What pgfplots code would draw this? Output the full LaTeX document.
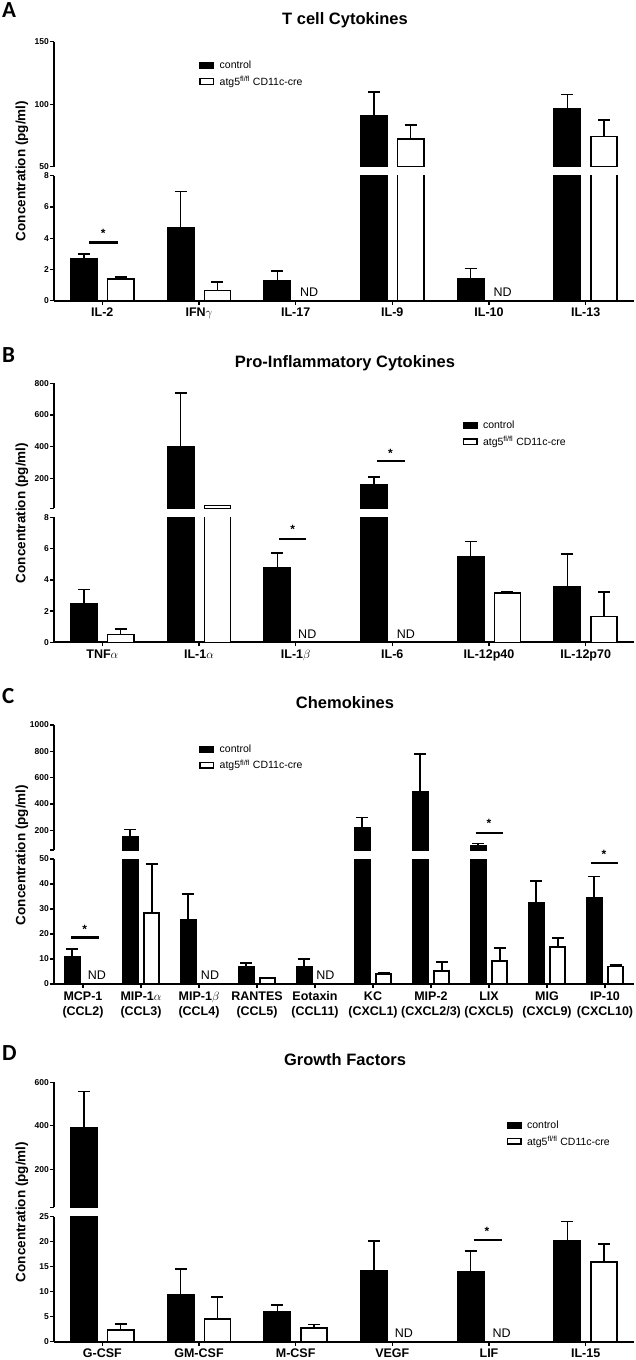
\documentclass[border=0pt]{standalone}
\usepackage{fontspec}
\setmainfont{Liberation Sans}
\newfontfamily\panelfont{Carlito}
\usepackage{pgfplots}
\usepackage{pgfplotstable}
\pgfplotsset{compat=1.18}

% x = category, c/ce = control mean/SEM, k/ke = atg5 fl/fl CD11c-cre (nan = ND)
\pgfplotstableread{
x c ce k ke
0 2.65 0.33 1.40 0.13
1 4.67 2.33 0.66 0.54
2 1.28 0.62 nan nan
3 90.9 19.0 72.3 10.9
4 1.39 0.68 nan nan
5 96.3 11.4 74.1 13.1
}\tA
\pgfplotstableread{
x c ce k ke
0 2.44 0.94 0.50 0.36
1 400 337 27 2
2 4.77 0.96 nan nan
3 158 50 nan nan
4 5.50 0.96 3.14 0.09
5 3.55 2.10 1.65 1.56
}\tB
\pgfplotstableread{
x c ce k ke
0 10.8 3.1 nan nan
1 154 51 28.3 19.7
2 25.7 10.4 nan nan
3 7.0 1.3 2.3 0.2
4 6.7 3.2 nan nan
5 218 79 4.0 0.4
6 489 289 5.3 3.4
7 79 21 9.1 5.3
8 32.6 8.7 14.8 3.5
9 34.6 8.4 7.0 0.6
}\tC
\pgfplotstableread{
x c ce k ke
0 391 166 2.33 1.27
1 9.33 5.17 4.6 4.4
2 5.93 1.40 2.8 0.67
3 14.27 5.93 nan nan
4 14.0 4.2 nan nan
5 20.2 3.87 15.93 3.67
}\tD

\pgfplotsset{
  seg/.style={
    scale only axis, width=580pt, height=125pt,
    xmin=-0.5, xmax=5.5,
    ybar=10.6pt, bar width=0.27,
    every axis plot post/.append style={legend image code/.code={%
      \draw[line width=1.4pt] (0.7pt,-2.8pt) rectangle (14.3pt,2.8pt);
      \path[draw=none,fill=none] (19pt,0pt);}},
    axis y line*=left,
    axis line style={line width=1.8pt},
    every tick/.style={black, line width=1.4pt},
    major tick length=4pt,
    tick align=outside,
    clip mode=individual,
    scaled y ticks=false,
    /pgf/number format/assume math mode=true,
    /pgf/number format/1000 sep={},
    yticklabel style={font=\fontsize{8.5}{9}\selectfont\bfseries, inner sep=1pt},
    legend cell align=left,
    legend style={draw=none, fill=none, inner sep=0pt, row sep=3pt,
      nodes={inner sep=1.5pt}, font=\fontsize{10.5}{12}\selectfont},
  },
  % chemokine panel: ten categories, narrower gap
  ten/.style={xmin=-0.5, xmax=9.5, ybar=6.4pt, bar width=0.26},
  top/.style={seg, axis x line=none, xtick=\empty},
  bot/.style={seg, axis x line*=bottom,
    xticklabel style={font=\fontsize{12.5}{15}\selectfont\bfseries, align=center}},
  eb/.style={error bars/y dir=plus, error bars/y explicit,
    error bars/error bar style={line width=1.6pt},
    error bars/error mark options={rotate=90, line width=1.6pt, mark size=6pt}},
  ctl/.style={fill=black, draw=black, line width=1.6pt, eb},
  cre/.style={fill=white, draw=black, line width=1.6pt, eb},
}
\tikzset{
  nd/.style={font=\fontsize{12.5}{13}\selectfont, anchor=south, inner sep=0pt, yshift=4pt},
  star/.style={font=\fontsize{12}{12}\selectfont\bfseries, inner sep=0pt},
  ttl/.style={font=\fontsize{16.5}{18}\selectfont\bfseries},
  ylab/.style={rotate=90, font=\fontsize{13.5}{14}\selectfont\bfseries},
  plab/.style={font=\panelfont\bfseries\fontsize{23}{24}\selectfont, anchor=north west, inner sep=0pt},
}
\newcommand\ND[1]{\node[nd] at (axis cs:#1,0) {ND};}
\newcommand\sig[5]{\draw[line width=2.2pt] (axis cs:#1,#3) -- (axis cs:#2,#3);
  \node[star] at (axis cs:#4,#5) {*};}
\newcommand\bars[1]{%
  \addplot[ctl] table[x=x,y=c,y error=ce]{#1};
  \addplot[cre] table[x=x,y=k,y error=ke]{#1};}
\newcommand\leg{\legend{control, atg5\textsuperscript{fl/fl} CD11c-cre}}

\begin{document}
\begin{tikzpicture}
\useasboundingbox (0pt,0pt) rectangle (635pt,-1360pt);

% ---------- A ----------
\node[plab] at (2pt,-2pt) {A};
\node[ttl] at (345pt,-20pt) {T cell Cytokines};
\node[ylab] at (22pt,-171pt) {Concentration (pg/ml)};
\begin{axis}[top, at={(54pt,-166.7pt)}, anchor=south west,
  ymin=50, ymax=150, ytick={50,100,150}, restrict y to domain=50:2000]
\bars{\tA}
\end{axis}
\begin{axis}[bot, at={(54pt,-300.7pt)}, anchor=south west,
  ymin=0, ymax=8, ytick={0,2,...,8},
  xtick={0,...,5}, xticklabels={IL-2, IFN$\gamma$, IL-17, IL-9, IL-10, IL-13},
  legend style={at={(0.250,1.931)}, anchor=north west}]
\bars{\tA}
\leg
\ND{2.14} \ND{4.14}
\sig{-0.14}{0.16}{3.73}{0.01}{4.3}
\end{axis}

% ---------- B ----------
\node[plab] at (2pt,-347pt) {B};
\node[ttl] at (345pt,-363pt) {Pro-Inflammatory Cytokines};
\node[ylab] at (22pt,-513pt) {Concentration (pg/ml)};
\begin{axis}[top, at={(54pt,-508.3pt)}, anchor=south west,
  ymin=10, ymax=800, ytick={200,400,600,800}, restrict y to domain=10:2000,
  extra y ticks={10}, extra y tick labels={}]
\bars{\tB}
\sig{2.845}{3.126}{309}{2.98}{360}
\end{axis}
\begin{axis}[bot, at={(54pt,-642.3pt)}, anchor=south west,
  ymin=0, ymax=8, ytick={0,2,...,8},
  xtick={0,...,5}, xticklabels={TNF$\alpha$, IL-1$\alpha$, IL-1$\beta$, IL-6, IL-12p40, IL-12p70},
  legend style={at={(0.704,1.782)}, anchor=north west}]
\bars{\tB}
\leg
\ND{2.12} \ND{3.14}
\sig{1.83}{2.11}{6.63}{1.97}{7.2}
\end{axis}

% ---------- C ----------
\node[plab] at (2pt,-688pt) {C};
\node[ttl] at (345pt,-703pt) {Chemokines};
\node[ylab] at (22pt,-855pt) {Concentration (pg/ml)};
\begin{axis}[top, ten, at={(54pt,-850pt)}, anchor=south west,
  ymin=50, ymax=1000, ytick={200,400,...,1000}, restrict y to domain=50:2000,
  extra y ticks={50}, extra y tick labels={}]
\bars{\tC}
\sig{6.77}{7.24}{178}{7.0}{250}
\end{axis}
\begin{axis}[bot, ten, at={(54pt,-984pt)}, anchor=south west,
  ymin=0, ymax=50, ytick={0,10,...,50},
  xtick={0,...,9},
  xticklabels={{MCP-1\\(CCL2)}, {MIP-1$\alpha$\\(CCL3)}, {MIP-1$\beta$\\(CCL4)},
    {RANTES\\(CCL5)}, {Eotaxin\\(CCL11)}, {KC\\(CXCL1)}, {MIP-2\\(CXCL2/3)},
    {LIX\\(CXCL5)}, {MIG\\(CXCL9)}, {IP-10\\(CXCL10)}},
  legend style={at={(0.250,1.929)}, anchor=north west}]
\bars{\tC}
\leg
\ND{0.24} \ND{2.19} \ND{4.18}
\sig{-0.2}{0.27}{18.6}{0.03}{22}
\sig{8.76}{9.22}{48.4}{8.98}{52}
\end{axis}

% ---------- D ----------
\node[plab] at (2pt,-1045pt) {D};
\node[ttl] at (345pt,-1060pt) {Growth Factors};
\node[ylab] at (22pt,-1212pt) {Concentration (pg/ml)};
\begin{axis}[top, at={(54pt,-1207.3pt)}, anchor=south west,
  ymin=25, ymax=600, ytick={200,400,600}, restrict y to domain=25:2000,
  extra y ticks={25}, extra y tick labels={}]
\bars{\tD}
\end{axis}
\begin{axis}[bot, at={(54pt,-1341.7pt)}, anchor=south west,
  ymin=0, ymax=25, ytick={0,5,...,25},
  xtick={0,...,5}, xticklabels={G-CSF, GM-CSF, M-CSF, VEGF, LIF, IL-15},
  legend style={at={(0.780,1.782)}, anchor=north west}]
\bars{\tD}
\leg
\ND{3.12} \ND{4.13}
\sig{3.84}{4.13}{20.27}{3.98}{22}
\end{axis}
\end{tikzpicture}
\end{document}
